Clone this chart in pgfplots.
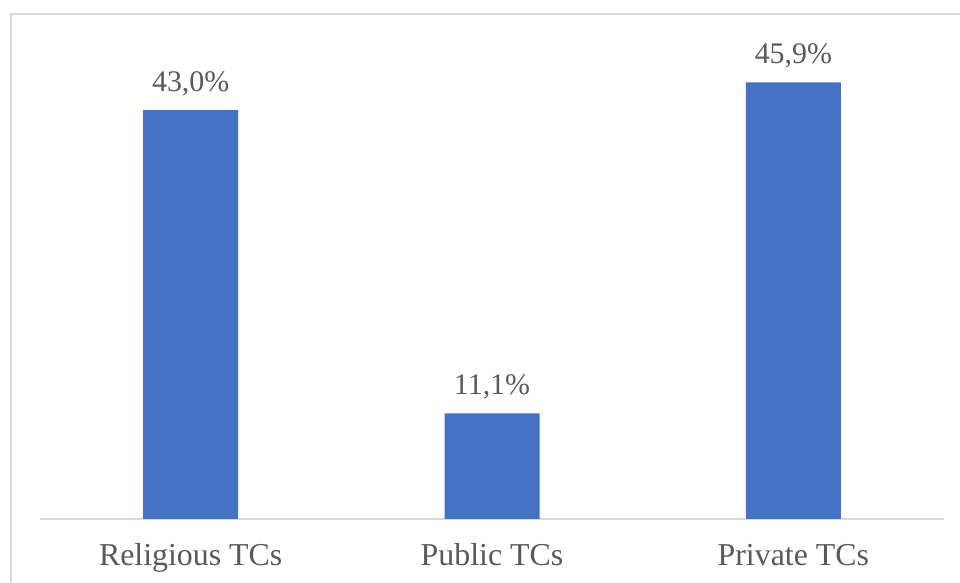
\documentclass[border=0pt]{standalone}
\usepackage{pgfplots}
\pgfplotsset{compat=1.18}
\usepackage{fontspec}
\setmainfont{Liberation Serif}
\definecolor{barblue}{HTML}{4472C4}
\definecolor{txtgray}{HTML}{595959}
\definecolor{linegray}{HTML}{D9D9D9}
\begin{document}
\begin{tikzpicture}[x=0.5bp,y=0.5bp]
\path[use as bounding box, clip] (0,0) rectangle (960,583);
\fill[white] (0,0) rectangle (960,583);
\draw[linegray, line width=1bp] (11,569) rectangle (1000,-40);
\begin{axis}[
  at={(20bp,32bp)}, anchor=south west,
  scale only axis,
  width=452bp, height=237.75bp,
  xmin=-0.5, xmax=2.5,
  ymin=0, ymax=50,
  axis x line*=bottom,
  axis y line=none,
  x axis line style={linegray, line width=0.75bp, -},
  xtick={0,1,2},
  xticklabels={Religious TCs, Public TCs, Private TCs},
  major tick length=0pt,
  xticklabel style={font=\fontsize{16}{19}\selectfont, text=txtgray, anchor=base, yshift=-23.5bp},
  ybar, bar width=47.5bp,
  nodes near coords,
  point meta=explicit symbolic,
  every node near coord/.append style={font=\fontsize{15}{18}\selectfont, text=txtgray, anchor=base, yshift=9.5bp},
  clip=false,
]
\addplot[fill=barblue, draw=none] coordinates {(0,43.0) [43,0\%] (1,11.1) [11,1\%] (2,45.9) [45,9\%]};
\end{axis}
\end{tikzpicture}
\end{document}
